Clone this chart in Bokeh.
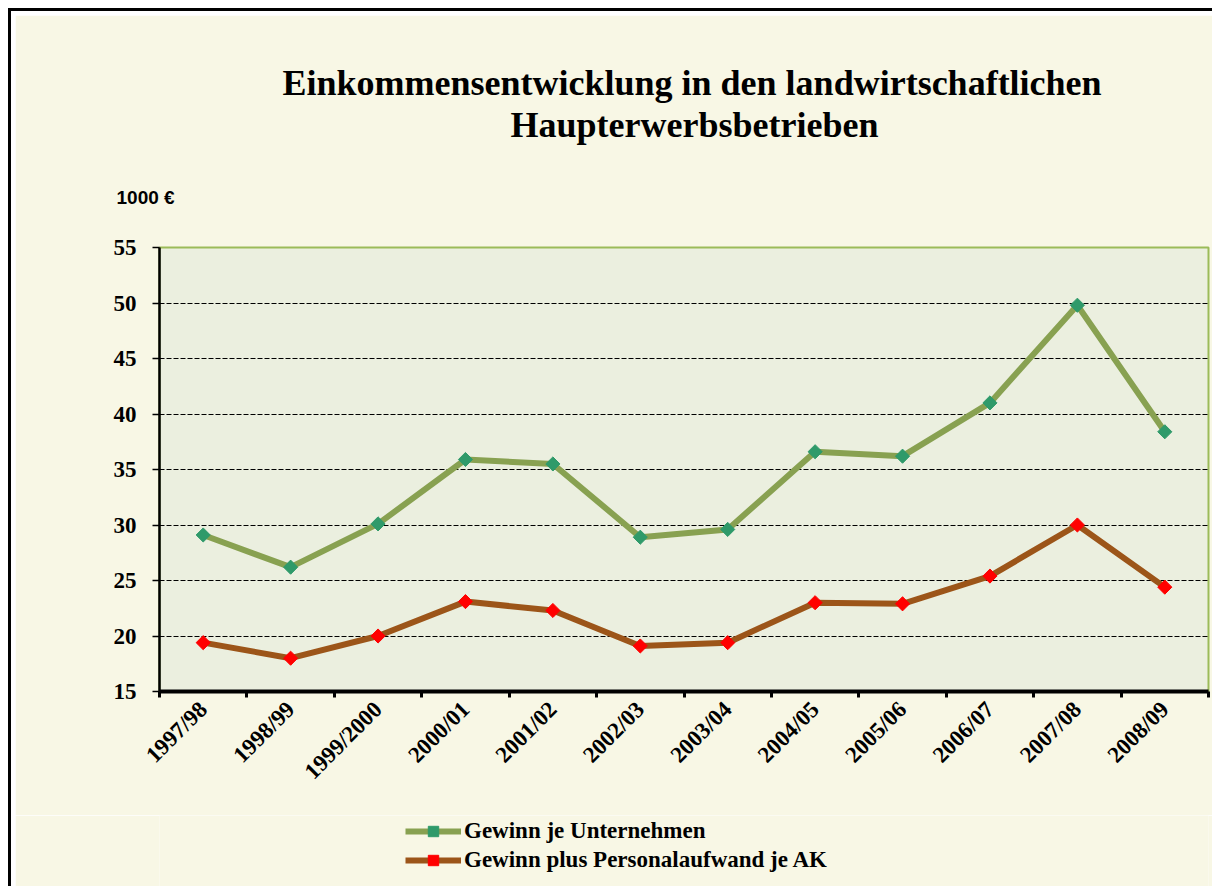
from bokeh.plotting import figure
from bokeh.layouts import column
from bokeh.models import FixedTicker, Legend, LegendItem, Title, Range1d
from bokeh.embed import file_html
from bokeh.resources import INLINE

# ---- data ----
categories = ["1997/98", "1998/99", "1999/2000", "2000/01", "2001/02", "2002/03",
              "2003/04", "2004/05", "2005/06", "2006/07", "2007/08", "2008/09"]
gewinn_unternehmen = [29.1, 26.2, 30.1, 35.9, 35.5, 28.9, 29.6, 36.6, 36.2, 41.0, 49.8, 38.4]
gewinn_plus_personal = [19.4, 18.0, 20.0, 23.1, 22.3, 19.1, 19.4, 23.0, 22.9, 25.4, 30.0, 24.4]
series_names = ["Gewinn je Unternehmen", "Gewinn plus Personalaufwand je AK"]
y_ticks = [15, 20, 25, 30, 35, 40, 45, 50, 55]
title_lines = ["Einkommensentwicklung  in den landwirtschaftlichen", "Haupterwerbsbetrieben"]
unit_label = "1000 €"

CREAM = "#f8f7e5"
FRAME = "#ebefdf"
SERIF = "Liberation Serif"
GREEN_LINE, GREEN_MARK = "#88a151", "#2f9a6a"
BROWN_LINE, RED_MARK = "#9c5519", "#ff0000"
DIAMOND = dict(marker="square", angle=0.785398, size=10)

n = len(categories)
xc = [i + 0.5 for i in range(n)]

# ---------------- main chart ----------------
p = figure(width=1197, height=800, output_backend="svg", toolbar_location=None,
           x_range=Range1d(0, n), y_range=Range1d(15, 55),
           min_border_left=144, min_border_right=4, min_border_top=232,
           min_border_bottom=124)
p.background_fill_color = FRAME
p.border_fill_color = CREAM
p.outline_line_color = "#9bbb59"
p.outline_line_width = 2

p.xgrid.grid_line_color = None
p.ygrid.ticker = FixedTicker(ticks=y_ticks[1:-1])
p.ygrid.grid_line_color = "black"
p.ygrid.grid_line_dash = "5 2"
p.ygrid.grid_line_width = 1.2

p.yaxis.ticker = FixedTicker(ticks=y_ticks)
p.yaxis.axis_line_width = 2.5
p.yaxis.axis_line_color = "black"
p.yaxis.major_tick_out = 7
p.yaxis.major_tick_in = 0
p.yaxis.major_tick_line_width = 1.5
p.yaxis.minor_tick_line_color = None
p.yaxis.major_label_text_font = SERIF
p.yaxis.major_label_text_font_style = "bold"
p.yaxis.major_label_text_font_size = "23px"
p.yaxis.major_label_text_color = "black"
p.yaxis.major_label_standoff = 16

p.xaxis.ticker = FixedTicker(ticks=xc, minor_ticks=list(range(n + 1)))
p.xaxis.major_label_overrides = {x: c for x, c in zip(xc, categories)}
p.xaxis.major_tick_line_color = None
p.xaxis.minor_tick_line_color = "black"
p.xaxis.minor_tick_line_width = 3
p.xaxis.minor_tick_out = 6
p.xaxis.minor_tick_in = 0
p.xaxis.axis_line_width = 4
p.xaxis.axis_line_color = "black"
p.xaxis.major_label_orientation = 0.785398
p.xaxis.major_label_text_font = SERIF
p.xaxis.major_label_text_font_style = "bold"
p.xaxis.major_label_text_font_size = "23px"
p.xaxis.major_label_text_color = "black"
p.xaxis.major_label_standoff = 8

p.line(xc, gewinn_unternehmen, line_color=GREEN_LINE, line_width=6)
p.scatter(xc, gewinn_unternehmen, fill_color=GREEN_MARK, line_color=GREEN_MARK, **DIAMOND)
p.line(xc, gewinn_plus_personal, line_color=BROWN_LINE, line_width=6)
p.scatter(xc, gewinn_plus_personal, fill_color=RED_MARK, line_color=RED_MARK, **DIAMOND)

# titles (closest to frame first)
p.add_layout(Title(text=unit_label, align="left", offset=-43, standoff=80,
                   text_font="Liberation Sans", text_font_style="bold",
                   text_font_size="19px", text_color="black"), "above")
p.add_layout(Title(text=title_lines[1], align="left", offset=351, standoff=0,
                   text_font=SERIF, text_font_style="bold",
                   text_font_size="36px", text_color="black"), "above")
p.add_layout(Title(text=title_lines[0], align="left", offset=123, standoff=0,
                   text_font=SERIF, text_font_style="bold",
                   text_font_size="36px", text_color="black"), "above")

# ---------------- legend strip ----------------
q = figure(width=1197, height=71, output_backend="svg", toolbar_location=None,
           x_range=Range1d(100, 101), y_range=Range1d(0, 1),
           min_border_left=0, min_border_right=0, min_border_top=0, min_border_bottom=0)
q.axis.visible = False
q.grid.grid_line_color = None
q.outline_line_color = None
q.background_fill_color = CREAM
q.border_fill_color = CREAM
ql1 = q.line(xc, gewinn_unternehmen, line_color=GREEN_LINE, line_width=6)
qm1 = q.scatter(xc, gewinn_unternehmen, fill_color=GREEN_MARK, line_color=GREEN_MARK, **DIAMOND)
ql2 = q.line(xc, gewinn_plus_personal, line_color=BROWN_LINE, line_width=6)
qm2 = q.scatter(xc, gewinn_plus_personal, fill_color=RED_MARK, line_color=RED_MARK, **DIAMOND)
legend = Legend(items=[LegendItem(label=series_names[0], renderers=[ql1, qm1]),
                       LegendItem(label=series_names[1], renderers=[ql2, qm2])],
                location=(246, 13), orientation="vertical",
                padding=0, margin=0, spacing=3, glyph_width=56, glyph_height=26,
                label_height=26, label_standoff=3, label_text_font=SERIF,
                label_text_font_style="bold",
                label_text_font_size="23px", label_text_color="black",
                border_line_color=None, background_fill_alpha=0)
q.add_layout(legend, "center")

inner = column(p, q, spacing=0,
               styles={"border-left": "3px solid black", "border-top": "3px solid black",
                       "padding-left": "4px", "padding-top": "4px",
                       "background-color": "white"})
root = column(inner, styles={"padding-left": "8px", "padding-top": "8px",
                             "background-color": "white"})

open("out.html", "w").write(file_html(root, INLINE))
